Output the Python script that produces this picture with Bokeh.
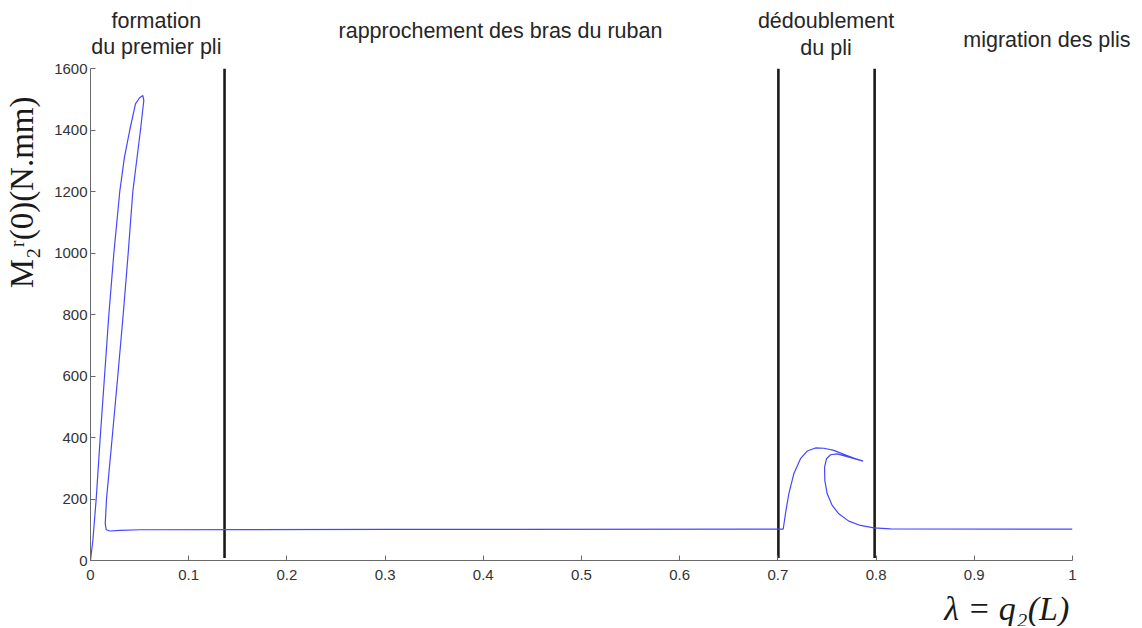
import math
from bokeh.plotting import figure
from bokeh.models import Range1d, FixedTicker
from bokeh.layouts import column, row
from bokeh.core.properties import value
from bokeh.embed import file_html
from bokeh.resources import INLINE

# ---- data ----
lam = [0.0, 0.0024, 0.0058, 0.0099, 0.0143, 0.0187, 0.0238, 0.0298, 0.0345, 0.0400, 0.0458, 0.0500, 0.0533,
       0.0543, 0.0530, 0.0509, 0.0470, 0.0431, 0.0384, 0.0333, 0.0278, 0.0221, 0.0163, 0.0150, 0.0160, 0.0200,
       0.0300, 0.0500, 0.3000, 0.7054,
       0.7077, 0.7111, 0.7162, 0.7230, 0.7298, 0.7383, 0.7468, 0.7570, 0.7671, 0.7773, 0.7868,
       0.7705, 0.7603, 0.7536, 0.7495, 0.7475, 0.7478, 0.7502, 0.7553, 0.7620, 0.7722, 0.7841,
       0.7977, 0.8147, 1.0]
moment = [0, 65, 200, 400, 600, 800, 1000, 1200, 1310, 1400, 1485, 1505, 1512,
          1496, 1460, 1400, 1300, 1200, 1000, 800, 600, 400, 200, 120, 100, 96,
          98, 100, 101, 102,
          152, 217, 282, 331, 356, 366, 365, 358, 345, 333, 323,
          338, 347, 344, 331, 303, 260, 217, 179, 152, 128, 114,
          106, 103, 102]

phase_bounds = [0.1365, 0.7005, 0.7985]
x_ticks = [0, 0.1, 0.2, 0.3, 0.4, 0.5, 0.6, 0.7, 0.8, 0.9, 1]
x_tick_labels = ["0", "0.1", "0.2", "0.3", "0.4", "0.5", "0.6", "0.7", "0.8", "0.9", "1"]
y_ticks = [0, 200, 400, 600, 800, 1000, 1200, 1400, 1600]

phase_text = ["formation", "du premier pli", "rapprochement des bras du ruban",
              "dédoublement", "du pli", "migration des plis"]
phase_x = [0.067, 0.067, 0.4175, 0.749, 0.749, 0.974]
phase_row = [40, 14, 30, 40, 13, 21]   # height above the header bottom, px

y_label = "M₂ʳ(0)(N.mm)"
x_label = "λ = q₂(L)"

# ---- layout geometry ----
W = 1142
LEFT_W = 42
FRAME_L = 90          # page x of lambda = 0
FRAME_W = 982         # px for lambda 0..1
HEAD_H = 60
TOP_B = 8
FRAME_H = 492
BOTTOM_B = 28
MAIN_H = TOP_B + FRAME_H + BOTTOM_B
FOOT_H = 38

full_x = Range1d(-FRAME_L / FRAME_W, (W - FRAME_L) / FRAME_W)


def bare(fig):
    fig.outline_line_color = None
    fig.xgrid.visible = False
    fig.ygrid.visible = False
    fig.axis.visible = False
    return fig


# header with the phase names
head = bare(figure(width=W, height=HEAD_H, output_backend="svg", toolbar_location=None,
                   x_range=full_x, y_range=Range1d(0, HEAD_H),
                   min_border=0, x_axis_location=None, y_axis_location=None))
head.text(phase_x, phase_row, text=phase_text, text_align="center", text_baseline="middle",
          text_font=value("Liberation Sans"), text_font_size="21.5px", text_color="#262626")

# main plot
main = figure(width=W - LEFT_W, height=MAIN_H, output_backend="svg", toolbar_location=None,
              x_range=Range1d(0, 1), y_range=Range1d(0, 1600),
              min_border_left=FRAME_L - LEFT_W, min_border_right=W - FRAME_L - FRAME_W,
              min_border_top=TOP_B, min_border_bottom=BOTTOM_B)
main.outline_line_color = None
main.xgrid.visible = False
main.ygrid.visible = False
for ax in (main.xaxis[0], main.yaxis[0]):
    ax.axis_line_color = "#6a6a6a"
    ax.major_tick_line_color = "#6a6a6a"
    ax.major_tick_in = 5
    ax.major_tick_out = 0
    ax.minor_tick_line_color = None
    ax.major_label_text_font = "Liberation Sans"
    ax.major_label_text_font_size = "15px"
    ax.major_label_text_color = "#333333"
main.xaxis[0].ticker = FixedTicker(ticks=x_ticks)
main.xaxis[0].major_label_overrides = {t: l for t, l in zip(x_ticks, x_tick_labels)}
main.xaxis[0].major_label_standoff = 9
main.yaxis[0].ticker = FixedTicker(ticks=y_ticks)
main.yaxis[0].major_label_overrides = {t: str(t) for t in y_ticks}
main.yaxis[0].major_label_standoff = 3

for b in phase_bounds:
    main.line([b, b], [8, 1600], line_color="#1a1a1a", line_width=2.6)
main.line(lam, moment, line_color="#4646ff", line_width=1.2)

# left strip with the y label
left = bare(figure(width=LEFT_W, height=MAIN_H, output_backend="svg", toolbar_location=None,
                   x_range=Range1d(0, LEFT_W), y_range=main.y_range,
                   min_border_left=0, min_border_right=0, min_border_top=TOP_B,
                   min_border_bottom=BOTTOM_B, x_axis_location=None, y_axis_location=None))
left.text([21], [1197], text=[y_label], angle=math.pi / 2, text_align="center",
          text_baseline="middle", text_font=value("Liberation Serif"),
          text_font_size="33px", text_color="#1a1a1a")

# footer with the x label
foot = bare(figure(width=W, height=FOOT_H, output_backend="svg", toolbar_location=None,
                   x_range=full_x, y_range=Range1d(0, FOOT_H),
                   min_border=0, x_axis_location=None, y_axis_location=None))
foot.text([0.933], [18], text=[x_label], text_align="center", text_baseline="middle",
          text_font=value("Liberation Serif"), text_font_size="34px",
          text_font_style="italic", text_color="#1a1a1a")

page = column(head, row(left, main), foot)
open("out.html", "w").write(file_html(page, INLINE))
